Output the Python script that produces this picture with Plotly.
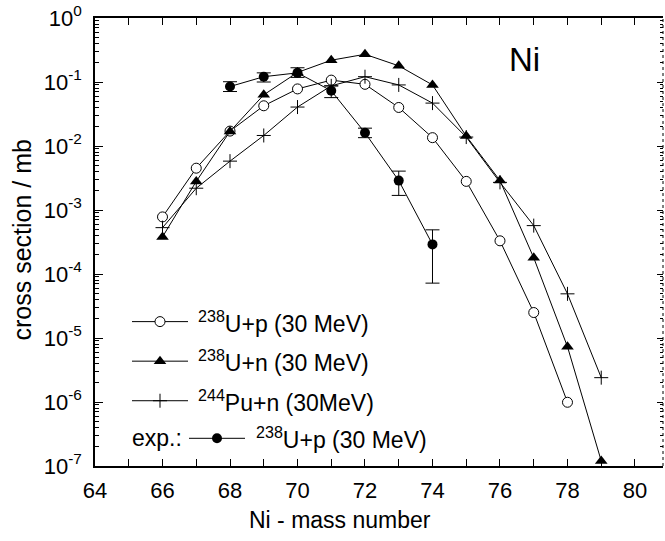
import plotly.graph_objects as go

# ---------------- data ----------------
up_mass = [66, 67, 68, 69, 70, 71, 72, 73, 74, 75, 76, 77, 78]
up_calc = [7.8e-4, 4.5e-3, 0.0171, 0.0425, 0.078, 0.107, 0.092, 0.040, 0.0135, 0.0028, 3.3e-4, 2.5e-5, 9.9e-7]

un_mass = [66, 67, 68, 69, 70, 71, 72, 73, 74, 75, 76, 77, 78, 79]
un_calc = [3.8e-4, 2.8e-3, 0.0169, 0.063, 0.141, 0.219, 0.271, 0.179, 0.090, 0.0143, 0.00288, 1.79e-4, 7.3e-6, 1.2e-7]

pu_mass = [66, 67, 68, 69, 70, 71, 72, 73, 74, 75, 76, 77, 78, 79]
pu_calc = [5.3e-4, 2.19e-3, 5.8e-3, 0.0146, 0.0406, 0.087, 0.121, 0.090, 0.0468, 0.0138, 0.0027, 5.7e-4, 4.9e-5, 2.4e-6]

exp_mass = [68, 69, 70, 71, 72, 73, 74]
exp_val = [0.085, 0.121, 0.139, 0.073, 0.0161, 0.00288, 2.9e-4]
exp_hi = [0.101, 0.139, 0.167, 0.087, 0.019, 0.00405, 4.9e-4]
exp_lo = [0.071, 0.100, 0.118, 0.057, 0.0135, 0.00169, 7.2e-5]

y_tickvals = [1e-7, 1e-6, 1e-5, 1e-4, 1e-3, 1e-2, 1e-1, 1]
y_ticktext = ["10<sup>-7</sup>", "10<sup>-6</sup>", "10<sup>-5</sup>", "10<sup>-4</sup>",
              "10<sup>-3</sup>", "10<sup>-2</sup>", "10<sup>-1</sup>", "10<sup>0</sup>"]

legend_labels = ["<sup>238</sup>U+p (30 MeV)", "<sup>238</sup>U+n (30 MeV)",
                 "<sup>244</sup>Pu+n (30MeV)", "<sup>238</sup>U+p (30 MeV)"]

# ---------------- layout constants ----------------
FONT = "Liberation Sans, Arial, sans-serif"
W_FIG, H_FIG = 665, 541
L, R, T, B = 95, 2, 13, 75
PL, PR, PT, PB = L, W_FIG - R, T, H_FIG - B   # plot-area pixel box

def px(x):
    return (x - PL) / (PR - PL)

def py(y):
    return (PB - y) / (PB - PT)

minor_y = [m * 10.0 ** e for e in range(-7, 0) for m in range(2, 10)]

err_plus = [h - v for h, v in zip(exp_hi, exp_val)]
err_minus = [v - l for v, l in zip(exp_val, exp_lo)]

fig = go.Figure()

open_circle = dict(symbol="circle", size=10, color="white", line=dict(color="black", width=1))
tri = dict(symbol="triangle-up", size=11, color="black", line=dict(width=0))
plus = dict(symbol="cross-thin-open", size=10, color="black", line=dict(color="black", width=1))
dot = dict(symbol="circle", size=10, color="black", line=dict(width=0))
ln = dict(color="black", width=1)

fig.add_trace(go.Scatter(x=up_mass, y=up_calc, mode="lines+markers", line=ln, marker=open_circle,
                         showlegend=False))
fig.add_trace(go.Scatter(x=pu_mass, y=pu_calc, mode="lines+markers", line=ln, marker=plus,
                         showlegend=False))
fig.add_trace(go.Scatter(x=un_mass, y=un_calc, mode="lines+markers", line=ln, marker=tri,
                         showlegend=False))
fig.add_trace(go.Scatter(x=exp_mass, y=exp_val, mode="lines+markers", line=ln, marker=dot,
                         error_y=dict(type="data", symmetric=False, array=err_plus, arrayminus=err_minus,
                                      color="black", thickness=1, width=7),
                         showlegend=False))

# empty trace for the right-hand mirrored axis
fig.add_trace(go.Scatter(x=[], y=[], yaxis="y2", showlegend=False, hoverinfo="skip"))

# ---------------- hand-made legend (pixel frame overlay) ----------------
rows = [320, 360, 400, 438]
markers = [open_circle, tri, plus, dot]
for i, (yy, mk) in enumerate(zip(rows, markers)):
    if i < 3:
        x0, x1, xm, xt = 132, 188, 160, 196
    else:
        x0, x1, xm, xt = 189, 245, 217, 254
    fig.add_trace(go.Scatter(x=[x0, x1], y=[yy, yy], mode="lines", line=ln,
                             xaxis="x3", yaxis="y3", showlegend=False, hoverinfo="skip"))
    fig.add_trace(go.Scatter(x=[xm], y=[yy], mode="markers", marker=mk,
                             xaxis="x3", yaxis="y3", showlegend=False, hoverinfo="skip"))
    fig.add_annotation(x=px(xt), y=py(yy), xref="paper", yref="paper", text=legend_labels[i],
                       showarrow=False, xanchor="left", yanchor="middle",
                       font=dict(family=FONT, size=23, color="black"))
fig.add_annotation(x=px(130), y=py(rows[3]), xref="paper", yref="paper", text="exp.:",
                   showarrow=False, xanchor="left", yanchor="middle",
                   font=dict(family=FONT, size=23, color="black"))

# panel label and axis titles
fig.add_annotation(x=px(524), y=py(55), xref="paper", yref="paper", text="Ni", showarrow=False,
                   xanchor="center", yanchor="middle", font=dict(family=FONT, size=33, color="black"))
fig.add_annotation(x=px(340), y=py(521), xref="paper", yref="paper", text="Ni - mass number",
                   showarrow=False, xanchor="center", yanchor="middle",
                   font=dict(family=FONT, size=23, color="black"))
fig.add_annotation(x=px(22), y=py(238), xref="paper", yref="paper", text="cross section / mb",
                   showarrow=False, xanchor="center", yanchor="middle", textangle=-90,
                   font=dict(family=FONT, size=25, color="black"))

# dotted right frame line
fig.add_shape(type="line", xref="paper", yref="paper", x0=1, x1=1, y0=0, y1=1,
              line=dict(color="black", width=1, dash="dot"))

fig.update_layout(
    width=W_FIG, height=H_FIG,
    margin=dict(l=L, r=R, t=T, b=B, pad=0),
    paper_bgcolor="white", plot_bgcolor="white",
    font=dict(family=FONT, size=22, color="black"),
    showlegend=False,
    xaxis=dict(range=[64, 80.83], tick0=64, dtick=2, ticks="inside", ticklen=7, tickwidth=1.2,
               tickcolor="black", showline=True, linecolor="black", linewidth=1.5, mirror="ticks",
               showgrid=False, zeroline=False, ticklabelstandoff=4, ticklabeloverflow="allow",
               tickfont=dict(family=FONT, size=22, color="black"),
               minor=dict(dtick=1, tick0=64, ticks="inside", ticklen=7, tickwidth=1.2,
                          tickcolor="black", showgrid=False)),
    yaxis=dict(type="log", range=[-7, 0], tickmode="array", tickvals=y_tickvals, ticktext=y_ticktext,
               ticks="inside", ticklen=8, tickwidth=1.2, tickcolor="black",
               showline=True, linecolor="black", linewidth=1.5, showgrid=False, zeroline=False,
               ticklabelstandoff=7, ticklabeloverflow="allow",
               tickfont=dict(family=FONT, size=22, color="black"),
               minor=dict(tickmode="array", tickvals=minor_y, ticks="inside", ticklen=4,
                          tickwidth=1, tickcolor="black", showgrid=False)),
    yaxis2=dict(type="log", range=[-7, 0], overlaying="y", side="right", anchor="x",
                tickmode="array", tickvals=y_tickvals, showticklabels=False,
                ticks="inside", ticklen=6, tickwidth=1.2, tickcolor="black",
                showline=False, showgrid=False, zeroline=False,
                minor=dict(tickmode="array", tickvals=minor_y, ticks="inside", ticklen=3,
                           tickwidth=1, tickcolor="black", showgrid=False)),
    xaxis3=dict(range=[PL, PR], overlaying="x", anchor="y3", visible=False, fixedrange=True),
    yaxis3=dict(range=[PB, PT], overlaying="y", anchor="x3", visible=False, fixedrange=True),
)

# remove the default 8px page margin so the figure sits at the window origin
fig.write_html("out.html", config={"displayModeBar": False},
               post_script="document.body.style.margin='0px';document.body.style.overflow='hidden';")
